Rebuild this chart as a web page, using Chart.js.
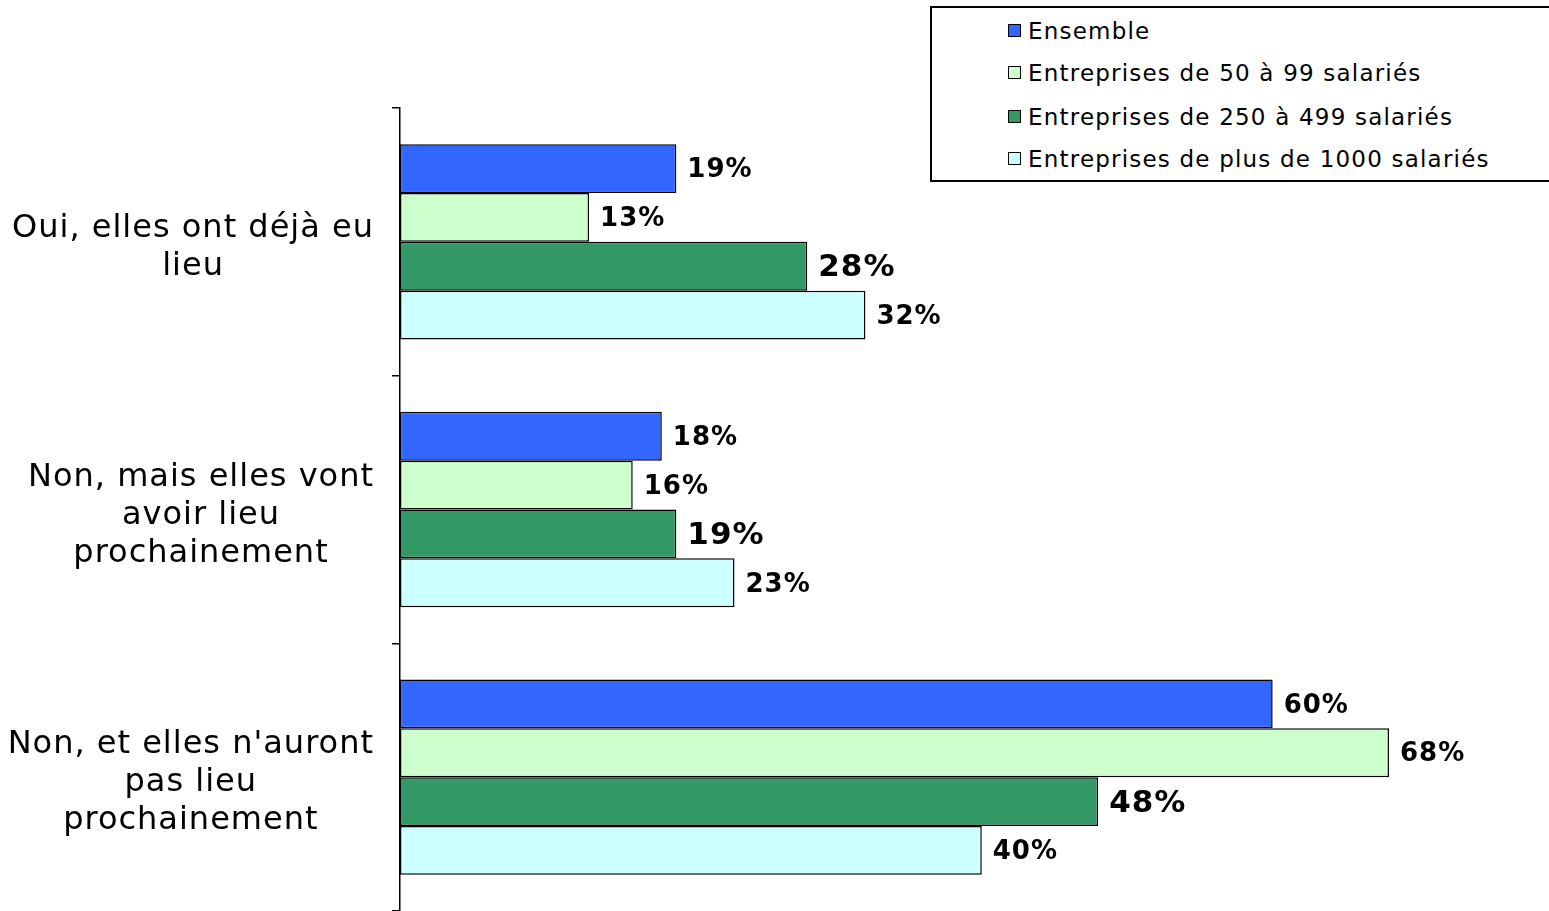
<!DOCTYPE html>
<html>
<head>
<meta charset="utf-8">
<script src="https://cdn.jsdelivr.net/npm/chart.js@4/dist/chart.umd.min.js"></script>
<style>
  html, body { margin: 0; padding: 0; background: #fff; }
  #wrap { position: relative; width: 1549px; height: 911px; }
  #legend {
    position: absolute; left: 930px; top: 6px; width: 617px; height: 172px;
    border: 2px solid #000; border-right: none; background: #fff;
    font-family: "DejaVu Sans", Verdana, sans-serif; font-size: 23px; letter-spacing: 1.2px; color: #000;
    box-sizing: content-box;
  }
  #legend .item { position: absolute; left: 76px; height: 30px; line-height: 30px; white-space: nowrap; }
  #legend .box { display: inline-block; width: 11px; height: 11px; border: 1.5px solid #000; margin-right: 7px; vertical-align: 2px; }
</style>
</head>
<body>
<div id="wrap">
  <canvas id="chart" width="1549" height="911"></canvas>
  <div id="legend"></div>
</div>
<script>
// Categories (y axis labels)
const categories = [
  ['Oui, elles ont déjà eu', 'lieu'],
  ['Non, mais elles vont', 'avoir lieu', 'prochainement'],
  ['Non, et elles n\'auront', 'pas lieu', 'prochainement']
];

// Series
const seriesNames = [
  'Ensemble',
  'Entreprises de 50 à 99 salariés',
  'Entreprises de 250 à 499 salariés',
  'Entreprises de plus de 1000 salariés'
];
const ensemble = [19, 18, 60];
const ent50to99 = [13, 16, 68];
const ent250to499 = [28, 19, 48];
const ent1000plus = [32, 23, 40];

const seriesColors = ['#3366FF', '#CCFFCC', '#339966', '#CCFFFF'];
const labelSizes = [26, 26, 31, 26];

const seriesValues = [ensemble, ent50to99, ent250to499, ent1000plus];

// Value labels drawn after bars
const valueLabels = {
  id: 'valueLabels',
  afterDatasetsDraw(chart) {
    const ctx = chart.ctx;
    ctx.save();
    ctx.fillStyle = '#000';
    ctx.textBaseline = 'middle';
    ctx.textAlign = 'left';
    ctx.letterSpacing = '1px';
    chart.data.datasets.forEach((ds, i) => {
      const meta = chart.getDatasetMeta(i);
      ctx.font = 'bold ' + labelSizes[i] + 'px "DejaVu Sans", Verdana, sans-serif';
      meta.data.forEach((bar, j) => {
        ctx.fillText(ds.data[j] + '%', bar.x + 11, bar.y + 2);
      });
    });
    ctx.restore();
  }
};

// Category labels: lines centred, block right-aligned against the axis
const categoryLabels = {
  id: 'categoryLabels',
  afterDraw(chart) {
    const ctx = chart.ctx;
    const yScale = chart.scales.y;
    const lineH = 38;
    const rightEdge = yScale.right - 27;
    ctx.save();
    ctx.fillStyle = '#000';
    ctx.font = '32px "DejaVu Sans", Verdana, sans-serif';
    ctx.letterSpacing = '1px';
    ctx.textBaseline = 'middle';
    ctx.textAlign = 'center';
    chart.data.labels.forEach((lines, i) => {
      const y = yScale.getPixelForValue(i) + 6;
      const widest = Math.max(...lines.map(l => ctx.measureText(l).width));
      const cx = rightEdge - widest / 2;
      const top = y - (lines.length - 1) * lineH / 2;
      lines.forEach((l, k) => ctx.fillText(l, cx + 1, top + k * lineH));
    });
    ctx.restore();
  }
};

const ctx = document.getElementById('chart');
new Chart(ctx, {
  type: 'bar',
  data: {
    labels: categories,
    datasets: seriesNames.map((name, i) => ({
      label: name,
      data: seriesValues[i],
      backgroundColor: seriesColors[i],
      borderColor: '#000',
      borderWidth: 1.5,
      borderSkipped: false,
      categoryPercentage: 0.73,
      barPercentage: 1.0
    }))
  },
  options: {
    indexAxis: 'y',
    responsive: false,
    animation: false,
    layout: { padding: { top: 108, right: 0, bottom: 0, left: 0 } },
    scales: {
      x: { display: false, min: 0, max: 79 },
      y: {
        afterFit(scale) {
          scale.width = 400;
          scale.paddingTop = 0;
          scale.paddingBottom = 0;
        },
        border: { display: true, color: '#000', width: 1.5 },
        grid: { display: true, drawOnChartArea: false, color: '#000', tickLength: 8, lineWidth: 1.5 },
        ticks: { display: false }
      }
    },
    plugins: {
      legend: { display: false },
      tooltip: { enabled: false }
    }
  },
  plugins: [valueLabels, categoryLabels]
});

// HTML legend
const legendEl = document.getElementById('legend');
const rowTops = [8, 50, 94, 136];
seriesNames.forEach((name, i) => {
  const item = document.createElement('div');
  item.className = 'item';
  item.style.top = rowTops[i] + 'px';
  item.innerHTML = '<span class="box" style="background:' + seriesColors[i] + '"></span>' + name;
  legendEl.appendChild(item);
});
</script>
</body>
</html>
